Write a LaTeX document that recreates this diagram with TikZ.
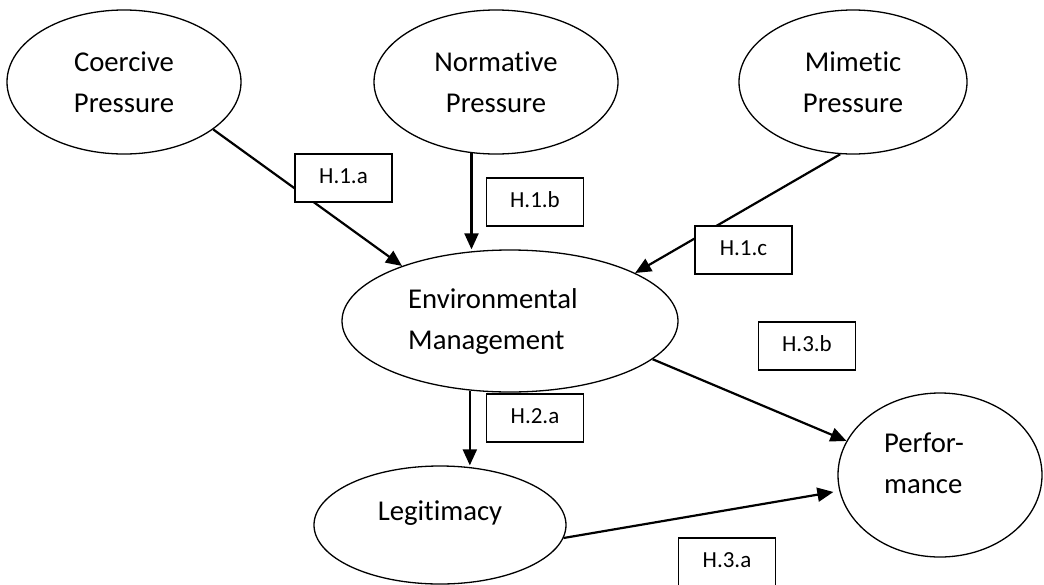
\documentclass[tikz,border=0pt]{standalone}
\usepackage{fontspec}
\setmainfont{Carlito}[Ligatures=CommonOff]
\usepackage{tikz}
\usetikzlibrary{arrows.meta,shapes.geometric,calc}
\tikzset{
  construct/.style={draw, ellipse, line width=1.3pt, inner sep=0pt, align=center,
    font=\fontsize{28.7}{41}\selectfont},
  hypbox/.style={draw, fill=white, line width=1.6pt, inner sep=0pt,
    minimum width=97pt, minimum height=48pt, text height=15pt, text depth=5pt,
    font=\fontsize{23}{28}\selectfont},
  link/.style={line width=2.2pt, -{Triangle[length=16pt,width=14pt]}}
}

\begin{document}
\begin{tikzpicture}[x=1pt,y=-1pt]
\useasboundingbox (0,0) rectangle (1044,584);
\node[construct, minimum width=234pt, minimum height=144pt] (coer) at (124,82) {Coercive\\Pressure};
\node[construct, minimum width=244pt, minimum height=144pt] (norm) at (496,82) {Normative\\Pressure};
\node[construct, minimum width=228pt, minimum height=144pt] (mim) at (853,82) {Mimetic\\Pressure};
\node[construct, align=left, minimum width=336pt, minimum height=142pt] (env) at (510,321) {Environmental\kern34pt\\Management};
\node[construct, minimum width=252pt, minimum height=118pt] (legit) at (440,525) {Legitimacy\rule[-29pt]{0pt}{29pt}};
\node[construct, align=left, minimum width=204pt, minimum height=164pt] (perf) at (940,475) {Perfor-\kern32pt\\mance\rule[-23pt]{0pt}{23pt}};

\draw[link] (coer.-28) -- (env.153);
\draw[link] (norm.-109) -- (norm.-109 |- env.north);
\draw[link] (mim.-100) -- (env.21);
\draw[link] (env.-120) -- (env.-120 |- legit.north);
\draw[link] (env.-15) -- (perf.160);
\draw[link, shorten >=6pt] (legit.-6) -- (perf.-171);

\node[hypbox] (h1a) at (343.5,178) {H.1.a};
\node[hypbox] (h1b) at (535,202) {H.1.b};
\node[hypbox] (h1c) at (743.5,250) {H.1.c};
\node[hypbox] (h2a) at (535,418) {H.2.a};
\node[hypbox] (h3b) at (807,346) {H.3.b};
\node[hypbox] (h3a) at (727,562) {H.3.a};
\end{tikzpicture}
\end{document}
